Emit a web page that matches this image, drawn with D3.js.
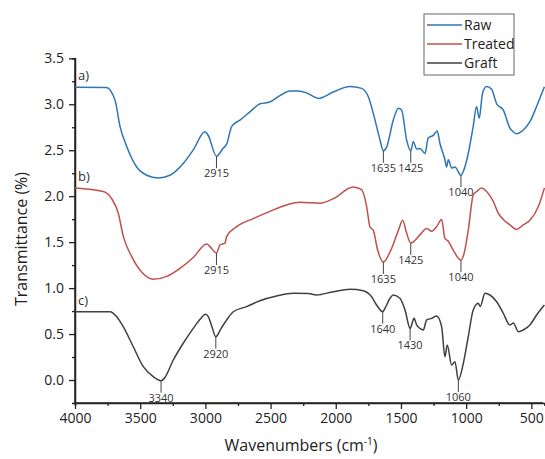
<!DOCTYPE html>
<html>
<head>
<meta charset="utf-8">
<script src="https://cdn.jsdelivr.net/npm/d3@7"></script>
<style>
body { margin: 0; background: #fff; }
text { font-family: "Open Sans", sans-serif; }
</style>
</head>
<body>
<div class="canvas"></div>
<script>
// spectra: [wavenumber, transmittance]
var rawData = [
    [4000, 3.185], [3760, 3.183], [3693, 3.045], [3655, 2.76], [3604, 2.543], [3527, 2.317],
    [3450, 2.228], [3361, 2.199], [3272, 2.228], [3170, 2.356], [3093, 2.504], [3003, 2.70],
    [2978, 2.66], [2915, 2.435], [2863, 2.523], [2838, 2.563], [2798, 2.76], [2735, 2.828],
    [2658, 2.917], [2581, 3.005], [2505, 3.025], [2428, 3.094], [2351, 3.143], [2288, 3.143],
    [2223, 3.123], [2134, 3.064], [2019, 3.133], [1891, 3.192], [1802, 3.173], [1751, 3.084],
    [1699, 2.828], [1661, 2.612], [1635, 2.494], [1610, 2.533], [1559, 2.828], [1520, 2.956],
    [1495, 2.937], [1457, 2.612], [1425, 2.494], [1406, 2.592], [1380, 2.514], [1355, 2.52],
    [1316, 2.464], [1291, 2.632], [1253, 2.661], [1222, 2.71], [1201, 2.573], [1163, 2.396],
    [1150, 2.317], [1137, 2.396], [1111, 2.307], [1086, 2.317], [1040, 2.228], [1022, 2.268],
    [984, 2.464], [946, 2.76], [920, 2.976], [900, 2.848], [874, 3.123], [843, 3.192],
    [805, 3.163], [766, 3.005], [715, 2.937], [664, 2.74], [638, 2.70], [613, 2.68],
    [562, 2.72], [511, 2.81], [460, 2.976], [400, 3.19]
];
var treatedData = [
    [4000, 2.09], [3783, 2.05], [3719, 1.973], [3668, 1.815], [3629, 1.56], [3565, 1.343],
    [3489, 1.176], [3399, 1.097], [3297, 1.127], [3195, 1.215], [3093, 1.333], [2990, 1.481],
    [2965, 1.451], [2915, 1.382], [2888, 1.471], [2850, 1.49], [2837, 1.56], [2760, 1.668],
    [2633, 1.756], [2505, 1.835], [2377, 1.904], [2275, 1.933], [2121, 1.924], [2019, 1.973],
    [1866, 2.10], [1802, 2.07], [1763, 1.884], [1738, 1.668], [1712, 1.628], [1680, 1.42],
    [1635, 1.284], [1578, 1.412], [1520, 1.628], [1487, 1.737], [1457, 1.599], [1425, 1.49],
    [1355, 1.579], [1303, 1.648], [1265, 1.618], [1227, 1.668], [1188, 1.746], [1163, 1.54],
    [1137, 1.51], [1099, 1.412], [1040, 1.304], [1015, 1.382], [984, 1.628], [946, 2.012],
    [920, 2.05], [882, 2.09], [843, 2.05], [792, 1.943], [754, 1.815], [715, 1.746],
    [664, 1.687], [613, 1.638], [562, 1.687], [511, 1.737], [447, 1.884], [400, 2.09]
];
var graftData = [
    [4000, 0.743], [3732, 0.743], [3680, 0.689], [3630, 0.58], [3553, 0.362], [3476, 0.145],
    [3400, 0.036], [3340, -0.007], [3315, 0.018], [3246, 0.218], [3170, 0.40], [3093, 0.562],
    [3041, 0.66], [2998, 0.715], [2978, 0.69], [2950, 0.58], [2920, 0.471], [2880, 0.56],
    [2837, 0.653], [2786, 0.743], [2684, 0.798], [2581, 0.863], [2454, 0.914], [2326, 0.943],
    [2211, 0.94], [2147, 0.925], [2019, 0.961], [1891, 0.987], [1789, 0.972], [1725, 0.906],
    [1687, 0.816], [1640, 0.743], [1623, 0.78], [1584, 0.889], [1559, 0.925], [1508, 0.889],
    [1469, 0.762], [1430, 0.562], [1418, 0.6], [1400, 0.671], [1380, 0.6], [1355, 0.562],
    [1329, 0.544], [1303, 0.653], [1265, 0.671], [1227, 0.696], [1188, 0.58], [1163, 0.254],
    [1145, 0.381], [1111, 0.163], [1086, 0.2], [1060, 0.0], [1022, 0.181], [984, 0.471],
    [946, 0.762], [907, 0.834], [892, 0.80], [856, 0.943], [818, 0.925], [766, 0.852],
    [715, 0.726], [664, 0.598], [638, 0.62], [600, 0.526], [562, 0.544], [511, 0.598],
    [460, 0.707], [400, 0.816]
];
var seriesNames = ["Raw", "Treated", "Graft"];
var seriesTags = ["a)", "b)", "c)"];
var peaksRaw = [2915, 1635, 1425, 1040];
var peaksTreated = [2915, 1635, 1425, 1040];
var peaksGraft = [3340, 2920, 1640, 1430, 1060];
var xTicks = [4000, 3500, 3000, 2500, 2000, 1500, 1000, 500];
var xMinor = [3750, 3250, 2750, 2250, 1750, 1250, 750];
var yTicks = [0, 0.5, 1, 1.5, 2, 2.5, 3, 3.5];
var yMinor = [0.25, 0.75, 1.25, 1.75, 2.25, 2.75, 3.25];

var width = 545,
    height = 459;
var colors = ["#2e75b6", "#c0504d", "#404040"];

var svg = d3.select(".canvas").append("svg")
    .attr("width", width)
    .attr("height", height);

var x = d3.scaleLinear().domain([4000, 400]).range([75, 544.4]);
var y = d3.scaleLinear().domain([-0.25, 3.5]).range([403, 58.3]);

// axes
var gx = svg.append("g").attr("transform", "translate(0,403)");
gx.call(d3.axisBottom(x).tickValues(xTicks).tickSize(6).tickPadding(4).tickFormat(d3.format("d")));
gx.append("g").call(d3.axisBottom(x).tickValues(xMinor).tickSize(3).tickFormat(""));
var gy = svg.append("g").attr("transform", "translate(75,0)");
gy.call(d3.axisLeft(y).tickValues(yTicks).tickSize(6).tickPadding(5).tickFormat(d3.format(".1f")));
gy.append("g").call(d3.axisLeft(y).tickValues(yMinor).tickSize(3).tickFormat(""));

svg.selectAll(".domain").attr("stroke", "#222").attr("stroke-width", 1.5);
svg.selectAll(".tick line").attr("stroke", "#222").attr("stroke-width", 1.3);
svg.selectAll(".tick text").attr("font-size", 14).attr("fill", "#222")
    .attr("font-family", "'Open Sans', sans-serif");
gx.select(".domain").attr("d", "M75,0H543");
gy.select(".domain").attr("d", "M0,58.3V403");

// spectra
var line = d3.line()
    .x(function(d) { return x(d[0]); })
    .y(function(d) { return y(d[1]); })
    .curve(d3.curveMonotoneX);

var allData = [rawData, treatedData, graftData];
var allPeaks = [peaksRaw, peaksTreated, peaksGraft];

allData.forEach(function(data, i) {
    svg.append("path")
        .datum(data)
        .attr("fill", "none")
        .attr("stroke", colors[i])
        .attr("stroke-width", 1.5)
        .attr("d", line);

    svg.append("text")
        .attr("x", 78)
        .attr("y", y(data[0][1]) - 7)
        .attr("font-size", 13)
        .attr("fill", "#333")
        .text(seriesTags[i]);

    // peak markers
    allPeaks[i].forEach(function(p) {
        var pt = data.find(function(d) { return d[0] === p; });
        var px = x(p), py = y(pt[1]);
        svg.append("line")
            .attr("x1", px).attr("x2", px)
            .attr("y1", py).attr("y2", py + 12)
            .attr("stroke", "#444")
            .attr("stroke-width", 1);
        svg.append("text")
            .attr("x", px)
            .attr("y", py + 21)
            .attr("text-anchor", "middle")
            .attr("font-size", 11)
            .attr("fill", "#333")
            .text(p);
    });
});

// axis titles
svg.append("text")
    .attr("x", 301)
    .attr("y", 451)
    .attr("text-anchor", "middle")
    .attr("font-size", 16)
    .attr("fill", "#222")
    .html("Wavenumbers (cm<tspan dy='-6' font-size='10'>-1</tspan><tspan dy='6'>)</tspan>");

svg.append("text")
    .attr("transform", "translate(27,239) rotate(-90)")
    .attr("text-anchor", "middle")
    .attr("font-size", 16)
    .attr("fill", "#222")
    .text("Transmittance (%)");

// legend
var legend = svg.append("g");
legend.append("rect")
    .attr("x", 424).attr("y", 14)
    .attr("width", 90).attr("height", 61)
    .attr("fill", "#fff")
    .attr("stroke", "#666")
    .attr("stroke-width", 1);
seriesNames.forEach(function(name, i) {
    var ly = 25 + i * 19;
    legend.append("line")
        .attr("x1", 427).attr("x2", 462)
        .attr("y1", ly).attr("y2", ly)
        .attr("stroke", colors[i])
        .attr("stroke-width", 1.5);
    legend.append("text")
        .attr("x", 464)
        .attr("y", ly + 5)
        .attr("font-size", 14)
        .attr("fill", "#222")
        .text(name);
});
</script>
</body>
</html>
